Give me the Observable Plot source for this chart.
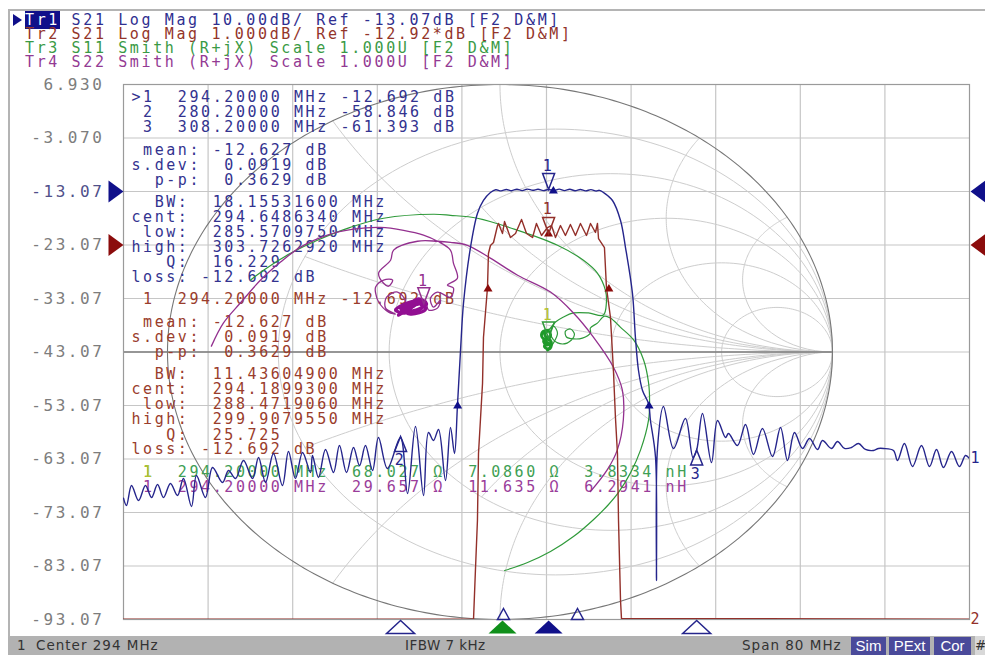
<!DOCTYPE html>
<html><head><meta charset="utf-8">
<script src="https://cdn.jsdelivr.net/npm/d3@7"></script>
<script src="https://cdn.jsdelivr.net/npm/@observablehq/plot@0.6"></script>
<style>
html,body{margin:0;padding:0;background:#fff;width:985px;height:655px;overflow:hidden}
#page{position:relative;width:985px;height:655px;font-family:"DejaVu Sans Mono",monospace}
#head{position:absolute;left:0;top:0;width:985px;height:72px;font-size:15px;letter-spacing:2.62px;line-height:14px;white-space:pre}
#head div{position:absolute;left:25px}
#topb{position:absolute;left:8px;top:9px;width:977px;height:2px;background:#b4b4b4}
#leftb{position:absolute;left:8px;top:9px;width:2px;height:628px;background:#b4b4b4;z-index:3}
#tri{position:absolute;left:13px;top:14px;width:0;height:0;border-left:9px solid #10108a;border-top:6px solid transparent;border-bottom:6px solid transparent}
.tr{background:#10108a;color:#fff}
#chart{position:absolute;left:0;top:72px}
#chart svg{display:block;background:transparent}
#chart svg text,#chart svg tspan{letter-spacing:2.58px;white-space:pre}
#bar{position:absolute;left:8px;top:636px;width:977px;height:19px;background:#b2b2b2;font-family:"DejaVu Sans",sans-serif;font-size:13.5px;color:#333;letter-spacing:1px;line-height:19px;white-space:pre}
#bar span{position:absolute;top:0}
#bar .btn{background:#4a4a9a;color:#fff;text-align:center;font-family:"Liberation Sans",sans-serif;font-size:15px;letter-spacing:0;top:1px;height:18px;line-height:18px}
</style></head><body>
<div id="page">
  <div id="topb"></div><div id="leftb"></div>
  <div id="head"></div>
  <div id="tri"></div>
  <div id="chart"></div>
  <div id="bar"></div>
</div>
<script>
// header and status texts
const headerLines = [
  ["Tr1"," S21 Log Mag 10.00dB/ Ref -13.07dB [F2 D&M]","#2f2f90"],
  ["Tr2"," S21 Log Mag 1.000dB/ Ref -12.92*dB [F2 D&M]","#93352a"],
  ["Tr3"," S11 Smith (R+jX) Scale 1.000U [F2 D&M]","#3a9a45"],
  ["Tr4"," S22 Smith (R+jX) Scale 1.000U [F2 D&M]","#933a93"]
];
const statusTexts = ["1","Center 294 MHz","IFBW 7 kHz","Span 80 MHz"];
const statusButtons = ["Sim","PExt","Cor"];

// value axis
const dbTicks = [6.93,-3.07,-13.07,-23.07,-33.07,-43.07,-53.07,-63.07,-73.07,-83.07,-93.07];
const dbTickLabels = ["6.930","-3.070","-13.07","-23.07","-33.07","-43.07","-53.07","-63.07","-73.07","-83.07","-93.07"];
const freqGrid = [262,270,278,286,294,302,310,318,326];

// Tr1 S21 10 dB/div
const tr1Freq = [254,254.28,254.76,255.42,256.08,256.65,257.22,257.78,258.44,259.11,259.67,260.43,260.9,261.75,262.42,263.36,263.93,264.59,265.35,266.2,266.77,267.43,268.18,269.03,269.6,270.26,270.93,271.68,271.87,272.44,273.1,273.86,274.42,275.09,275.75,276.32,276.88,277.55,278.11,278.96,280.19,280.86,281.61,282.37,282.84,283.31,283.79,284.45,284.92,285.3,285.58,285.87,286.15,286.81,287.47,288.04,288.7,
 289.2,289.7,290.2,290.7,291.2,291.7,292.2,292.7,293.2,293.7,294.2,294.7,295.2,295.7,296.2,296.7,297.2,297.7,298.2,298.7,299.0,
 299.39,300.24,301,301.47,302.13,302.41,302.7,303.08,303.64,303.83,304.31,304.4,304.5,305.06,306.01,307.14,307.85,308.2,308.75,309.6,310.17,310.93,311.21,312.06,312.82,313.57,314.42,315.37,316.13,316.79,317.45,318.21,318.87,319.63,320.1,320.95,321.52,322.18,322.84,323.5,324.16,324.92,325.39,325.87,326.81,327.19,327.85,328.61,329.46,330.22,330.88,331.54,332.3,333.05,333.62,334];
const tr1Db = [-70.4,-71.76,-68.02,-70.83,-68.02,-70.27,-67.83,-70.27,-67.65,-69.89,-66.72,-71.95,-66.15,-70.27,-64.66,-67.46,-65.22,-66.72,-63.35,-66.72,-62.79,-67.46,-62.04,-68.02,-61.67,-66.72,-61.86,-65.59,-62.42,-66.53,-61.29,-65.59,-60.55,-65.59,-60.92,-64.29,-60.55,-65.22,-59.05,-64.85,-59.05,-69.52,-56.99,-69.89,-58.12,-59.61,-57.55,-67.09,-57.18,-62.04,-53.07,-42.79,-34.01,-23.54,-17.18,-14.75,-13.26,
 -12.75,-12.95,-12.7,-12.92,-12.65,-12.9,-12.62,-12.85,-12.66,-12.9,-12.69,-12.88,-12.62,-12.9,-12.66,-12.92,-12.7,-12.95,-12.72,-12.98,-12.85,
 -13.26,-14.75,-18.49,-23.54,-32.14,-40.36,-46.53,-50.27,-52.7,-55.87,-62.79,-85.78,-60.92,-53.26,-61.1,-55.5,-62.79,-61.39,-54.57,-63.73,-55.87,-59.05,-58.31,-60.55,-56.62,-62.23,-57.37,-62.6,-57.18,-63.35,-58.12,-61.1,-59.24,-61.29,-59.61,-61.1,-59.8,-61.1,-60.92,-60.18,-61.29,-61.48,-61.1,-61.1,-61.48,-63.35,-60.18,-64.48,-60.55,-64.48,-61.29,-64.66,-61.67,-64.48,-62.42,-62.98];

// Tr2 S21 1 dB/div, as read on the displayed grid
const tr2Freq = [254,287.1,287.29,287.47,287.57,287.76,287.95,288.04,288.42,288.51,288.7,288.99,289.37,289.46,289.84,290.03,290.59,291.07,291.64,292.11,292.68,293.05,293.53,294.09,294.47,294.85,295.32,295.79,296.26,296.74,297.21,297.78,298.16,298.63,298.82,298.92,299.48,299.67,300.05,300.33,300.52,300.71,300.81,301,301.09,334];
const tr2Db = [-93,-93,-83.35,-74.57,-62.04,-55.5,-48.96,-40.36,-31.01,-24.66,-23.16,-22.6,-19.43,-19.05,-20.92,-18.68,-21.67,-20.92,-18.3,-20.92,-21.67,-19.05,-21.29,-19.8,-19.43,-21.67,-19.43,-21.29,-19.24,-21.29,-19.05,-21.29,-19.05,-20.73,-19.05,-21.86,-23.54,-31.01,-36.62,-46.53,-55.31,-62.04,-74.57,-89.52,-92.9,-93];

// Tr3 S11, reflection coefficient
const tr3Re = [-.75,-.711,-.63,-.549,-.45,-.35,-.2,-.149,-.068,.053,.173,.251,.293,.317,.32,.311,.266,.221,.191,.167,.146,.131,.125,.137,.152,.146,.134,.143,.155,.14,.131,.143,.155,.149,.134,.14,.152,.143,.161,.173,.161,.152,.161,.188,.215,.224,.212,.197,.2,.221,.248,.272,.272,.293,.314,.332,.362,.402,.432,.447,.45,.447,.423,.393,.356,.326,.281,.221,.152,.083,.014];
const tr3Im = [.269,.306,.369,.418,.466,.5,.515,.511,.5,.455,.399,.343,.295,.231,.183,.138,.146,.146,.131,.112,.082,.078,.06,.045,.06,.078,.067,.049,.037,.026,.041,.056,.03,.011,.019,.037,.022,.007,.034,.071,.097,.075,.045,.03,.045,.067,.086,.078,.056,.049,.052,.071,.09,.108,.134,.127,.093,.045,-.03,-.116,-.19,-.254,-.366,-.451,-.526,-.571,-.627,-.69,-.746,-.787,-.817];
const tr3BlobRe = [.146,.131,.125,.137,.152,.146,.134,.143,.155,.14,.131,.143,.155,.149,.134,.14,.152,.143];
const tr3BlobIm = [.082,.078,.06,.045,.06,.078,.067,.049,.037,.026,.041,.056,.03,.011,.019,.037,.022,.007];

// Tr4 S22, reflection coefficient
const tr4Re = [-.868,-.832,-.781,-.72,-.66,-.6,-.519,-.441,-.359,-.29,-.23,-.188,-.149,-.14,-.128,-.158,-.14,-.149,-.188,-.209,-.2,-.179,-.188,-.215,-.224,-.263,-.299,-.245,-.221,-.287,-.314,-.254,-.233,-.275,-.299,-.242,-.224,-.269,-.29,-.248,-.305,-.284,-.308,-.341,-.344,-.314,-.335,-.365,-.374,-.374,-.35,-.323,-.335,-.35,-.365,-.329,-.32,-.248,-.188,-.149,-.098,-.029,.053,.152,.221,.281,.341,.368,.371,.353,.323,.272];
const tr4Im = [.022,.108,.183,.269,.336,.392,.437,.459,.466,.455,.437,.414,.381,.332,.276,.25,.239,.205,.224,.201,.168,.194,.164,.157,.187,.172,.149,.198,.179,.146,.157,.19,.168,.153,.164,.187,.16,.142,.157,.179,.138,.187,.224,.205,.164,.142,.149,.187,.22,.243,.269,.269,.246,.257,.295,.343,.381,.414,.414,.41,.399,.351,.287,.224,.146,.056,-.056,-.142,-.254,-.366,-.44,-.522];
const tr4BlobRe = [-.224,-.263,-.299,-.245,-.221,-.287,-.314,-.254,-.233,-.275,-.299,-.242,-.224,-.269,-.29,-.248,-.305];
const tr4BlobIm = [.187,.172,.149,.198,.179,.146,.157,.19,.168,.153,.164,.187,.16,.142,.157,.179,.138];

// Smith grid values: reactance arcs and the resistance where each arc starts
const smithR = [0.2,0.5,1,2,5];
const smithX = [0.27,0.575,0.77,1,2,3.7];
const smithXStart = [0.2,0,0.5,0,0,0];

// readouts
const navyLines = [">1  294.20000 MHz -12.692 dB"," 2  280.20000 MHz -58.846 dB"," 3  308.20000 MHz -61.393 dB"," mean: -12.627 dB","s.dev:  0.0919 dB","  p-p:  0.3629 dB","  BW:  18.15531600 MHz","cent:  294.6486340 MHz"," low:  285.5709750 MHz","high:  303.7262920 MHz","   Q:  16.229","loss: -12.692 dB"];
const brownLines = [" 1  294.20000 MHz -12.692 dB"," mean: -12.627 dB","s.dev:  0.0919 dB","  p-p:  0.3629 dB","  BW:  11.43604900 MHz","cent:  294.1899300 MHz"," low:  288.4719060 MHz","high:  299.9079550 MHz","   Q:  25.725","loss: -12.692 dB"];
const greenLine = " 1  294.20000 MHz  68.027 Ω  7.0860 Ω  3.8334 nH";
const purpleLine = " 1  294.20000 MHz  29.657 Ω  11.635 Ω  6.2941 nH";

// layout
const W=985,H=564,mT=12,mB=17,mL=123,mR=16;
const navyRows = [97,112,127,150,165,180,202,217,232,247,262,277];
const brownRows = [299,322,337,352,374,389,404,419,435,449];
const greenRow = 472, purpleRow = 487;
const statusLeft = [9,28,397,734], statusSpacing = ["1px","1px",".45px","1px"];
const buttonLeft = [843,881,926], buttonWidth = [35,41,37];
const rowToDb = py => 6.93-(py-84)/5.35;
const readoutFreq = 254.75;
const reToF = u => 289.6+u*31.44;
const imToDb = v => -43.07+v*50;

const NAVY="#25258c",BROWN="#93302a",GREEN="#2f9a3a",PURPLE="#93308f";

// marker shapes
const shape = pts => ({draw(c){pts.forEach((p,i)=>i?c.lineTo(p[0],p[1]):c.moveTo(p[0],p[1]));c.closePath();}});
const markDown = shape([[0,0],[-6,-16],[6,-16]]);
const markUp = shape([[0,0],[-6,15],[6,15]]);
const smallUp = shape([[0,-4.5],[-4.5,3],[4.5,3]]);
const stimWide = shape([[0,0],[-14,13],[14,13]]);
const stimSmall = shape([[0,-11],[-6,0],[6,0]]);
const refL = shape([[15,0],[0,-11],[0,11]]);
const refR = shape([[-15,0],[0,-11],[0,11]]);

// Smith grid geometry
const grid=[];
smithR.forEach(r=>{const pts=d3.range(0,181).map(i=>{const a=i*Math.PI/90;return {u:r/(r+1)+Math.cos(a)/(r+1),v:Math.sin(a)/(r+1),k:"r"+r};});grid.push(...pts);});
smithX.forEach((x,j)=>{[1,-1].forEach(s=>{const t0=Math.atan(smithXStart[j]);d3.range(0,120).forEach(i=>{const t=t0+i/120*(Math.PI/2-t0),r=Math.tan(t),d=(r+1)*(r+1)+x*x;
  grid.push({u:(r*r+x*x-1)/d,v:s*2*x/d,k:"x"+x*s});});grid.push({u:1,v:0,k:"x"+x*s});});});
const outer=d3.range(0,361).map(i=>({u:Math.cos(i*Math.PI/180),v:Math.sin(i*Math.PI/180)}));

const text=(lines,ys,fill)=>Plot.text(lines,{x:()=>readoutFreq,y:(d,i)=>rowToDb(ys[i]),text:d=>d,fill,textAnchor:"start"});

const plot = Plot.plot({
  width:W,height:H,marginTop:mT,marginBottom:mB,marginLeft:mL,marginRight:mR,
  style:{fontFamily:"DejaVu Sans Mono, monospace",fontSize:"15px",background:"transparent"},
  x:{domain:[254,334],axis:null},
  y:{domain:[-93.07,6.93],axis:null},
  marks:[
    Plot.ruleX(freqGrid,{stroke:"#c6c6c6",strokeWidth:1.2}),
    Plot.ruleY(dbTicks,{stroke:"#c6c6c6",strokeWidth:1.2}),
    Plot.line(grid,{x:d=>reToF(d.u),y:d=>imToDb(d.v),z:"k",stroke:"#cdcdcd",strokeWidth:1,clip:true}),
    Plot.line(outer,{x:d=>reToF(d.u),y:d=>imToDb(d.v),stroke:"#777",strokeWidth:1.1,clip:true}),
    Plot.ruleY([-43.07],{x1:254,x2:reToF(1),stroke:"#7d7d7d",strokeWidth:1.4}),
    Plot.frame({stroke:"#9a9a9a",strokeWidth:1.2}),
    Plot.axisY(dbTicks.filter(d=>d!==-13.07),{anchor:"left",tickSize:0,tickPadding:19,label:null,fill:"#7d7d7d",fontSize:16,tickFormat:d=>dbTickLabels[dbTicks.indexOf(d)]}),
    Plot.axisY([-13.07],{anchor:"left",tickSize:0,tickPadding:19,label:null,fill:"#50508a",fontSize:16,tickFormat:d=>dbTickLabels[dbTicks.indexOf(d)]}),
    text(navyLines,navyRows,"#33338f"),
    text(brownLines,brownRows,"#9a3d2c"),
    text([greenLine],[greenRow],"#3f9f55"),
    text([purpleLine],[purpleRow],"#9a3d9a"),
    Plot.text(["1"],{x:()=>readoutFreq+1.1,y:()=>rowToDb(greenRow),fill:"#b6c42e",textAnchor:"start"}),
    Plot.line(tr3Re,{x:tr3Re.map(reToF),y:tr3Im.map(imToDb),stroke:GREEN,strokeWidth:1.2,curve:"catmull-rom",clip:true}),
    Plot.line(tr3BlobRe,{x:tr3BlobRe.map(reToF),y:tr3BlobIm.map(imToDb),stroke:"#1f9a2a",strokeWidth:2.8,curve:"catmull-rom"}),
    Plot.line(tr4Re,{x:tr4Re.map(reToF),y:tr4Im.map(imToDb),stroke:PURPLE,strokeWidth:1.3,curve:"catmull-rom",clip:true}),
    Plot.line(tr4BlobRe,{x:tr4BlobRe.map(reToF),y:tr4BlobIm.map(imToDb),stroke:"#920f92",strokeWidth:3.4,curve:"catmull-rom"}),
    Plot.line(tr2Db,{x:tr2Freq,y:tr2Db,stroke:BROWN,strokeWidth:1.4,clip:true}),
    Plot.line(tr1Db,{x:tr1Freq,y:tr1Db,stroke:NAVY,strokeWidth:1.4,curve:"catmull-rom",clip:true}),
    // reference arrows
    Plot.dot([-13.07],{x:()=>254,y:d=>d,symbol:refL,dx:-15,fill:"#10108a",stroke:"none"}),
    Plot.dot([-23.07],{x:()=>254,y:d=>d,symbol:refL,dx:-15,fill:"#8b0c0c",stroke:"none"}),
    Plot.dot([-13.07],{x:()=>334,y:d=>d,symbol:refR,dx:16,fill:"#10108a",stroke:"none"}),
    Plot.dot([-23.07],{x:()=>334,y:d=>d,symbol:refR,dx:16,fill:"#8b0c0c",stroke:"none"}),
    // bandwidth markers
    Plot.dot([285.6,303.7,294.65],{x:d=>d,y:[-53.07,-53.07,-12.9],symbol:smallUp,fill:"#10108a",stroke:"none"}),
    Plot.dot([288.47,299.9,294.19],{x:d=>d,y:[-31.2,-31.2,-20.9],symbol:smallUp,fill:"#8b0c0c",stroke:"none"}),
    // numbered markers
    Plot.dot([294.2],{x:d=>d,y:[-12.69],symbol:markDown,fill:"none",stroke:NAVY}),
    Plot.text(["1"],{x:()=>294.2,y:()=>-12.69,dy:-23,fill:NAVY}),
    Plot.dot([294.2],{x:d=>d,y:[-20.92],symbol:markDown,fill:"none",stroke:BROWN}),
    Plot.text(["1"],{x:()=>294.2,y:()=>-20.92,dy:-24,fill:BROWN}),
    Plot.dot([reToF(.146)],{x:d=>d,y:[imToDb(.052)],symbol:markDown,fill:"none",stroke:GREEN}),
    Plot.text(["1"],{x:()=>reToF(.146),y:()=>imToDb(.052),dy:-23,fill:"#b6c42e"}),
    Plot.dot([reToF(-.229)],{x:d=>d,y:[imToDb(.18)],symbol:markDown,fill:"none",stroke:PURPLE}),
    Plot.text(["1"],{x:()=>reToF(-.229),y:()=>imToDb(.18),dy:-23,fill:PURPLE}),
    Plot.dot([280.2,308.2],{x:d=>d,y:[-58.85,-61.39],symbol:markUp,fill:"none",stroke:NAVY}),
    Plot.text(["2","3"],{x:[280.2,308.2],y:[-58.85,-61.39],dy:24,fill:NAVY}),
    // stimulus markers
    Plot.dot([280.2,308.2],{x:d=>d,y:()=>-93.07,symbol:stimWide,dy:1,fill:"none",stroke:NAVY}),
    Plot.dot([289.84],{x:d=>d,y:()=>-93.07,symbol:stimWide,dy:1,fill:"#0f8f1a",stroke:"none"}),
    Plot.dot([294.2],{x:d=>d,y:()=>-93.07,symbol:stimWide,dy:1,fill:"#10108a",stroke:"none"}),
    Plot.dot([289.93,296.93],{x:d=>d,y:()=>-93.07,symbol:stimSmall,fill:"none",stroke:NAVY}),
    // trace end labels
    Plot.text(["1"],{x:()=>334,y:()=>-62.98,dx:1,textAnchor:"start",fill:NAVY}),
    Plot.text(["2"],{x:()=>334,y:()=>-93.07,dx:1,textAnchor:"start",fill:BROWN})
  ]
});
document.getElementById("chart").appendChild(plot);

const head=document.getElementById("head");
headerLines.forEach((l,i)=>{const d=document.createElement("div");d.style.top=(13+14*i)+"px";d.style.color=l[2];
  const a=document.createElement("span");a.textContent=l[0];if(i===0)a.className="tr";d.appendChild(a);d.appendChild(document.createTextNode(l[1]));head.appendChild(d);});
const bar=document.getElementById("bar");
statusTexts.forEach((t,i)=>{const s=document.createElement("span");s.textContent=t;s.style.left=statusLeft[i]+"px";s.style.letterSpacing=statusSpacing[i];bar.appendChild(s);});
statusButtons.forEach((t,i)=>{const s=document.createElement("span");s.className="btn";s.textContent=t;s.style.left=buttonLeft[i]+"px";s.style.width=buttonWidth[i]+"px";bar.appendChild(s);});
const hash=document.createElement("span");hash.textContent="#";hash.style.left="967px";hash.style.background="#d8d8d8";bar.appendChild(hash);
</script>
</body></html>
